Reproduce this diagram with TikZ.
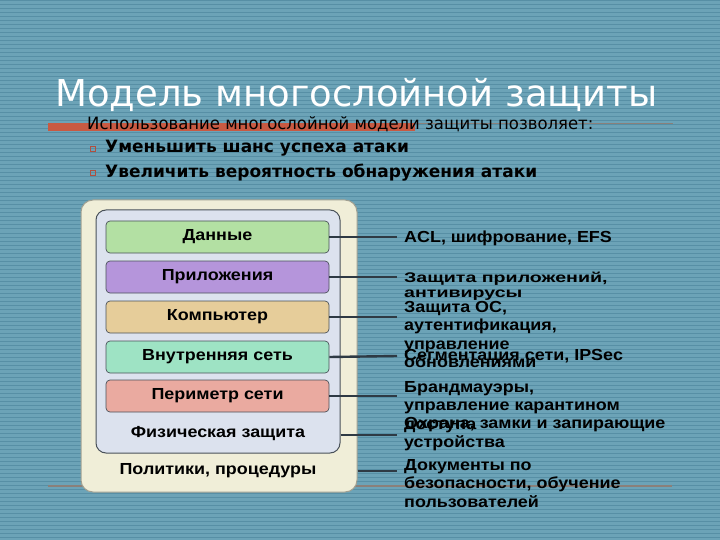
\documentclass[tikz,border=0pt]{standalone}
\usepackage{fontspec}
\setmainfont{Liberation Sans}
\newfontfamily\wideB{Liberation Sans}[FakeStretch=1.12]
\newfontfamily\widerB{Liberation Sans}[FakeStretch=1.4]
\newfontfamily\titlefont{DejaVu Sans}
\newfontfamily\subfont{DejaVu Sans}[FakeStretch=0.97]
\definecolor{bgc}{HTML}{6CA3B7}
\definecolor{stripec}{HTML}{578FA5}
\definecolor{redbar}{HTML}{C85A42}
\definecolor{thinc}{HTML}{8A807A}
\definecolor{cream}{HTML}{F0EED8}
\definecolor{creamb}{HTML}{A0A092}
\definecolor{innerf}{HTML}{DCE2EE}
\definecolor{innerb}{HTML}{4A525A}
\definecolor{cData}{HTML}{B3E0A3}
\definecolor{cApp}{HTML}{B595DB}
\definecolor{cComp}{HTML}{E6CD9A}
\definecolor{cNet}{HTML}{9EE3C4}
\definecolor{cPer}{HTML}{EAAAA0}
\definecolor{connc}{HTML}{2E3A44}
\definecolor{bulc}{HTML}{B05040}
\begin{document}
\begin{tikzpicture}[x=1pt,y=-1pt,
  layer/.style={draw=innerb, line width=0.7pt, rounded corners=4pt, minimum width=223pt, minimum height=32pt, inner sep=0pt, font=\wideB\fontsize{16}{18}\selectfont\bfseries},
  plain/.style={inner sep=0pt, font=\wideB\fontsize{16}{18}\selectfont\bfseries},
  conn/.style={draw=connc, line width=2.4pt},
  desc/.style={anchor=base west, inner sep=0pt, align=left, font=\wideB\fontsize{16}{18.5}\selectfont\bfseries},
  bul/.style={draw=bulc, line width=0.7pt, minimum size=5pt, inner sep=0pt}
]
\useasboundingbox (0,0) rectangle (720,540);
\fill[bgc] (0,0) rectangle (720,540);
\foreach \i in {0,...,134} \draw[stripec, line width=1pt] (0,\i*4+1) -- (720,\i*4+1);
% template lines
\fill[redbar] (48,123) rectangle (415,131);
\draw[thinc, line width=1pt] (415,124) -- (673,124);
\draw[thinc, line width=1.2pt] (48,486) -- (672,486);
% title
\node[anchor=base west, inner sep=0pt, text=white, font=\titlefont\fontsize{37}{40}\selectfont] (title) at (55,107) {Модель многослойной защиты};
\node[anchor=base west, inner sep=0pt, font=\subfont\fontsize{17}{20}\selectfont] (sub) at (87,130) {Использование многослойной модели защиты позволяет:};
\node[bul] (b1) at (92.5,149) {};
\node[bul] (b2) at (92.5,173) {};
\node[anchor=base west, inner sep=0pt, font=\titlefont\bfseries\fontsize{17}{19}\selectfont] (t1) at (105,153) {Уменьшить шанс успеха атаки};
\node[anchor=base west, inner sep=0pt, font=\titlefont\bfseries\fontsize{17}{19}\selectfont] (t2) at (105,178) {Увеличить вероятность обнаружения атаки};
% boxes
\node[draw=creamb, fill=cream, line width=1pt, rounded corners=12pt, minimum width=276pt, minimum height=292pt, inner sep=0pt] (outer) at (219,346) {};
\node[draw=innerb, fill=innerf, line width=1pt, rounded corners=10pt, minimum width=244pt, minimum height=243pt, inner sep=0pt] (inner) at (218,331.5) {};
\node[layer, fill=cData] (data) at (217.5,237) {Данные};
\node[layer, fill=cApp] (app) at (217.5,277) {Приложения};
\node[layer, fill=cComp] (comp) at (217.5,317) {Компьютер};
\node[layer, fill=cNet] (net) at (217.5,357) {Внутренняя сеть};
\node[layer, fill=cPer] (per) at (217.5,396) {Периметр сети};
\node[plain] (phys) at (218,434) {Физическая защита};
\node[plain] (pol) at (218,471) {Политики, процедуры};
% connector ends
\coordinate (e1) at (397,237);
\coordinate (e2) at (397,277);
\coordinate (e3) at (397,317);
\coordinate (e4) at (397,356);
\coordinate (e5) at (397,396);
\coordinate (e6) at (397,435);
\coordinate (e7) at (397,471);
\draw[conn] (data.east) -- (e1);
\draw[conn] (app.east) -- (e2);
\draw[conn] (comp.east) -- (e3);
\draw[conn] (net.east) -- (e4);
\draw[conn] (per.east) -- (e5);
\draw[conn] (e6 -| inner.east) -- (e6);
\draw[conn] (e7 -| outer.east) -- (e7);
% descriptions (anchor at baseline of last line)
\node[desc] (d1) at (404,243) {ACL, шифрование, EFS};
\node[desc, font=\widerB\fontsize{14}{15}\selectfont\bfseries] (d2) at (404,297) {Защита приложений,\\антивирусы};
\node[desc] (d3) at (404,367.5) {Защита ОС,\\аутентификация,\\управление\\обновлениями};
\node[desc] (d4) at (404,360) {Сегментация сети, IPSec};
\node[desc] (d5) at (404,429) {Брандмауэры,\\управление карантином\\доступа};
\node[desc, font=\wideB\fontsize{16}{19.5}\selectfont\bfseries] (d6) at (404,447.5) {Охрана, замки и запирающие\\устройства};
\node[desc] (d7) at (404,507) {Документы по\\безопасности, обучение\\пользователей};
\end{tikzpicture}
\end{document}
